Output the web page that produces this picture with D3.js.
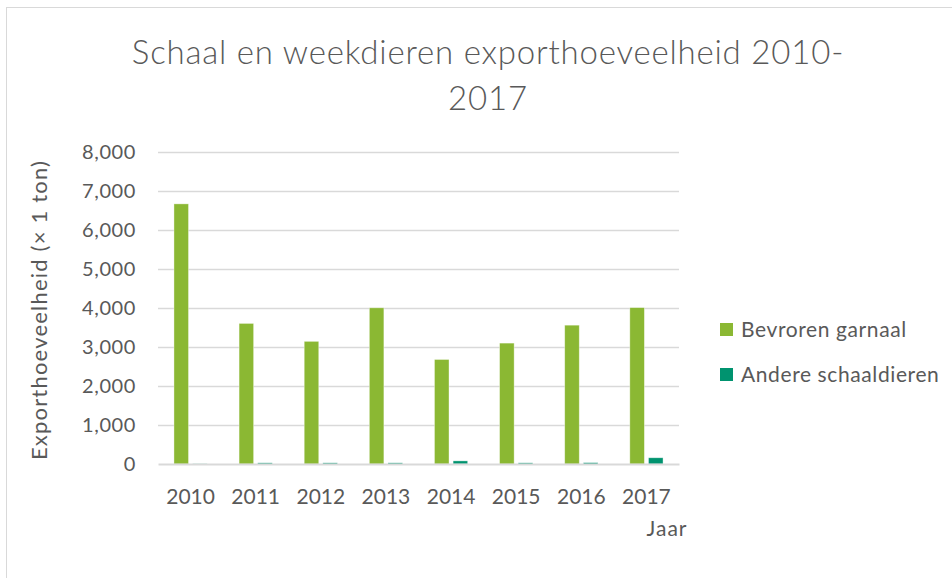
<!DOCTYPE html>
<html>
<head>
<meta charset="utf-8">
<script src="https://cdn.jsdelivr.net/npm/d3@7"></script>
<style>
  body { margin: 0; background: #fff; }
  text { font-family: Lato, "Open Sans", sans-serif; fill: #595959; }
</style>
</head>
<body>
<div id="chart"></div>
<script>
// data
const years = ["2010", "2011", "2012", "2013", "2014", "2015", "2016", "2017"];
const garnaal = [6670, 3605, 3145, 4005, 2680, 3100, 3560, 4010];
const andere = [5, 30, 30, 30, 80, 30, 35, 160];
const seriesNames = ["Bevroren garnaal", "Andere schaaldieren"];
const yTicks = [0, 1000, 2000, 3000, 4000, 5000, 6000, 7000, 8000];

const colours = ["#8BB833", "#00936F"];

const width = 952, height = 578;
const margin = { top: 152, right: 273, bottom: 114, left: 158 };
const innerW = width - margin.left - margin.right,
      innerH = height - margin.top - margin.bottom;

const svg = d3.select("#chart")
  .append("svg")
    .attr("width", width)
    .attr("height", height);

// chart frame
svg.append("rect")
  .attr("x", 6.5).attr("y", 7.5)
  .attr("width", 960).attr("height", 600)
  .attr("fill", "none")
  .attr("stroke", "#d9d9d9");

// title
const title = svg.append("text")
  .attr("text-anchor", "middle")
  .attr("font-size", 33)
  .attr("font-weight", 300)
  .attr("letter-spacing", 0.8);
title.append("tspan").attr("x", 488).attr("y", 64).text("Schaal en weekdieren exporthoeveelheid 2010-");
title.append("tspan").attr("x", 488).attr("y", 110).text("2017");

const g = svg.append("g")
  .attr("transform", `translate(${margin.left},${margin.top})`);

// scales
let x = d3.scaleBand()
  .domain(years)
  .range([0, innerW])
  .paddingInner(0.49)
  .paddingOuter(0.245);

let xSub = d3.scaleBand()
  .domain(seriesNames)
  .range([0, x.bandwidth()])
  .paddingInner(0.22);

let y = d3.scaleLinear()
  .domain([0, 8000])
  .range([innerH, 0]);

// gridlines
g.append("g")
  .selectAll("line")
  .data(yTicks.slice(1))
  .join("line")
    .attr("x1", 0).attr("x2", innerW)
    .attr("y1", d => y(d) + 0.5).attr("y2", d => y(d) + 0.5)
    .attr("stroke", "#d9d9d9")
    .attr("stroke-width", 1.3);

// y axis labels
let y_axis = d3.axisLeft(y)
  .tickValues(yTicks)
  .tickFormat(d3.format(","))
  .tickSize(0)
  .tickPadding(22);

g.append("g")
  .attr("class", "y axis")
  .call(y_axis)
  .call(a => a.select(".domain").remove())
  .selectAll("text")
    .attr("font-size", 20)
    .attr("letter-spacing", 0.6)
    .attr("font-family", "Lato, sans-serif")
    .attr("fill", "#595959");

// bars
const rows = years.map((yr, i) => ({ year: yr, values: [garnaal[i], andere[i]] }));

g.append("g")
  .selectAll("g")
  .data(rows)
  .join("g")
    .attr("transform", d => `translate(${x(d.year)},0)`)
  .selectAll("rect")
  .data(d => d.values.map((v, j) => ({ key: seriesNames[j], value: v, idx: j })))
  .join("rect")
    .attr("x", d => xSub(d.key))
    .attr("y", d => y(d.value))
    .attr("width", xSub.bandwidth())
    .attr("height", d => y(0) - y(d.value))
    .attr("fill", d => colours[d.idx])
    .attr("stroke", "#ffffff")
    .attr("stroke-opacity", 0.5)
    .attr("stroke-width", 0.75);

// x axis
let x_axis = d3.axisBottom(x).tickSize(0).tickPadding(25);

g.append("g")
  .attr("class", "x axis")
  .attr("transform", `translate(0,${innerH})`)
  .call(x_axis)
  .call(a => a.select(".domain")
    .attr("stroke", "#d9d9d9")
    .attr("stroke-width", 2))
  .selectAll("text")
    .attr("font-size", 21)
    .attr("font-family", "Lato, sans-serif")
    .attr("fill", "#595959");

// axis titles
svg.append("text")
  .attr("transform", `translate(47,${margin.top + innerH / 2 + 2}) rotate(-90)`)
  .attr("text-anchor", "middle")
  .attr("font-size", 22)
  .attr("letter-spacing", 1.2)
  .text("Exporthoeveelheid (× 1 ton)");

svg.append("text")
  .attr("x", 667)
  .attr("y", 536)
  .attr("text-anchor", "middle")
  .attr("font-size", 21)
  .attr("letter-spacing", 1)
  .text("Jaar");

// legend
let legend = svg.selectAll(".legend")
  .data(seriesNames)
  .enter().append("g")
  .attr("class", "legend")
  .attr("transform", (d, i) => `translate(720,${323 + i * 45})`);

legend.append("rect")
  .attr("width", 13)
  .attr("height", 13)
  .attr("fill", (d, i) => colours[i]);

legend.append("text")
  .attr("x", 21)
  .attr("y", 7)
  .attr("dy", ".35em")
  .attr("font-size", 21)
  .attr("letter-spacing", 0.6)
  .text(d => d);
</script>
</body>
</html>
